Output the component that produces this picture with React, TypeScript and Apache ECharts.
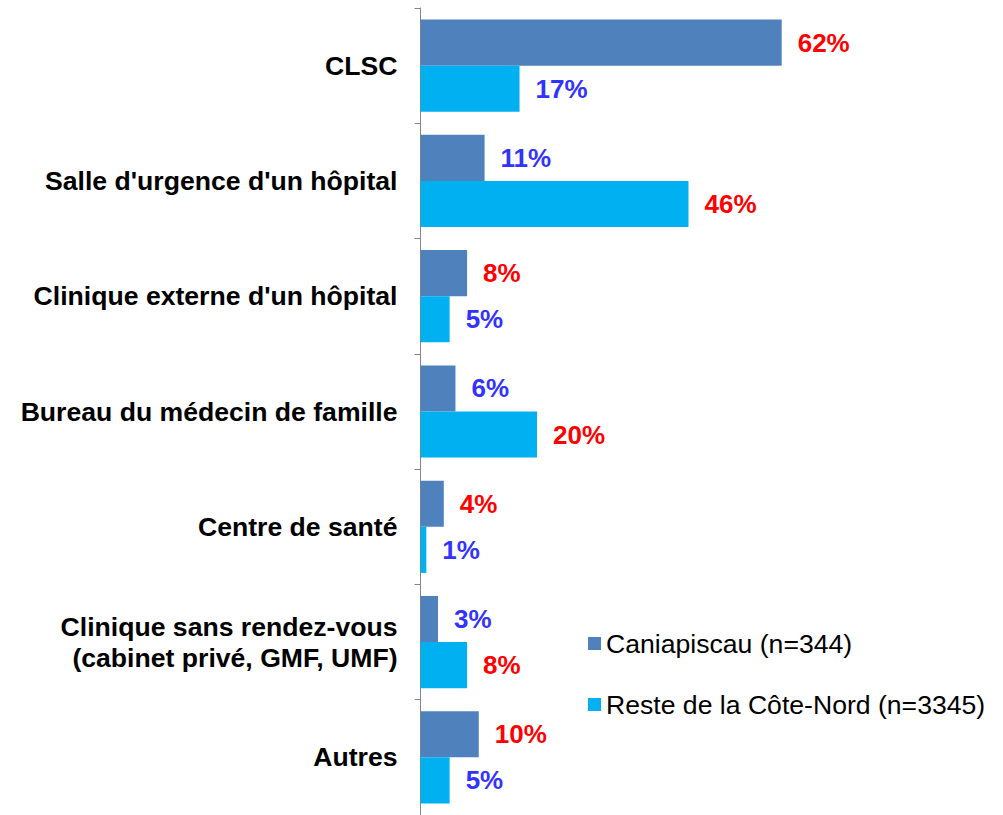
import React, { useEffect, useRef } from "react";
import * as echarts from "echarts";

const categories = [
  "CLSC",
  "Salle d'urgence d'un hôpital",
  "Clinique externe d'un hôpital",
  "Bureau du médecin de famille",
  "Centre de santé",
  "Clinique sans rendez-vous\n(cabinet privé, GMF, UMF)",
  "Autres",
];
const seriesNames = ["Caniapiscau (n=344)", "Reste de la Côte-Nord (n=3345)"];
const caniapiscau = [62, 11, 8, 6, 4, 3, 10];
const resteCoteNord = [17, 46, 5, 20, 1, 8, 5];

const FONT = "'Liberation Sans', Arial, Helvetica, sans-serif";
const RED = "#FF0000";
const BLUE = "#3333FF";

function makeData(values: number[], other: number[]) {
  return values.map((v, i) => ({
    value: v,
    label: { color: v >= other[i] ? RED : BLUE },
  }));
}

export default function App() {
  const ref = useRef<HTMLDivElement>(null);
  useEffect(() => {
    document.body.style.margin = "0";
    document.body.style.overflow = "hidden";
    if (!ref.current) return;
    const chart = echarts.init(ref.current, undefined, { renderer: "svg" });
    const labelBase = {
      show: true,
      position: "right" as const,
      distance: 16,
      formatter: "{c}%",
      fontFamily: FONT,
      fontWeight: "bold" as const,
      fontSize: 26,
    };
    chart.setOption({
      animation: false,
      backgroundColor: "#ffffff",
      grid: { left: 420.5, top: 8, width: 407.8, height: 809 },
      legend: {
        orient: "vertical",
        left: 588,
        top: 630,
        padding: 0,
        icon: "rect",
        itemWidth: 13,
        itemHeight: 13,
        itemGap: 34,
        textStyle: { fontFamily: FONT, fontSize: 26.6, color: "#000", lineHeight: 26 },
        data: seriesNames,
      },
      xAxis: { type: "value", min: 0, max: 70, show: false },
      yAxis: {
        type: "category",
        inverse: true,
        data: categories,
        axisLine: { show: true, lineStyle: { color: "#868686", width: 1 } },
        axisTick: { show: true, length: 6, lineStyle: { color: "#868686" } },
        axisLabel: {
          margin: 23,
          fontFamily: FONT,
          fontWeight: "bold",
          fontSize: 26.6,
          color: "#000",
          lineHeight: 31,
          align: "right",
        },
        splitLine: { show: false },
      },
      series: [
        {
          name: seriesNames[0],
          type: "bar",
          data: makeData(caniapiscau, resteCoteNord),
          itemStyle: { color: "#4F81BD" },
          barGap: "0%",
          barCategoryGap: "20%",
          label: labelBase,
        },
        {
          name: seriesNames[1],
          type: "bar",
          data: makeData(resteCoteNord, caniapiscau),
          itemStyle: { color: "#00B0F0" },
          barGap: "0%",
          barCategoryGap: "20%",
          label: labelBase,
        },
      ],
    });
    return () => chart.dispose();
  }, []);
  return <div ref={ref} style={{ width: 1003, height: 815 }} />;
}
